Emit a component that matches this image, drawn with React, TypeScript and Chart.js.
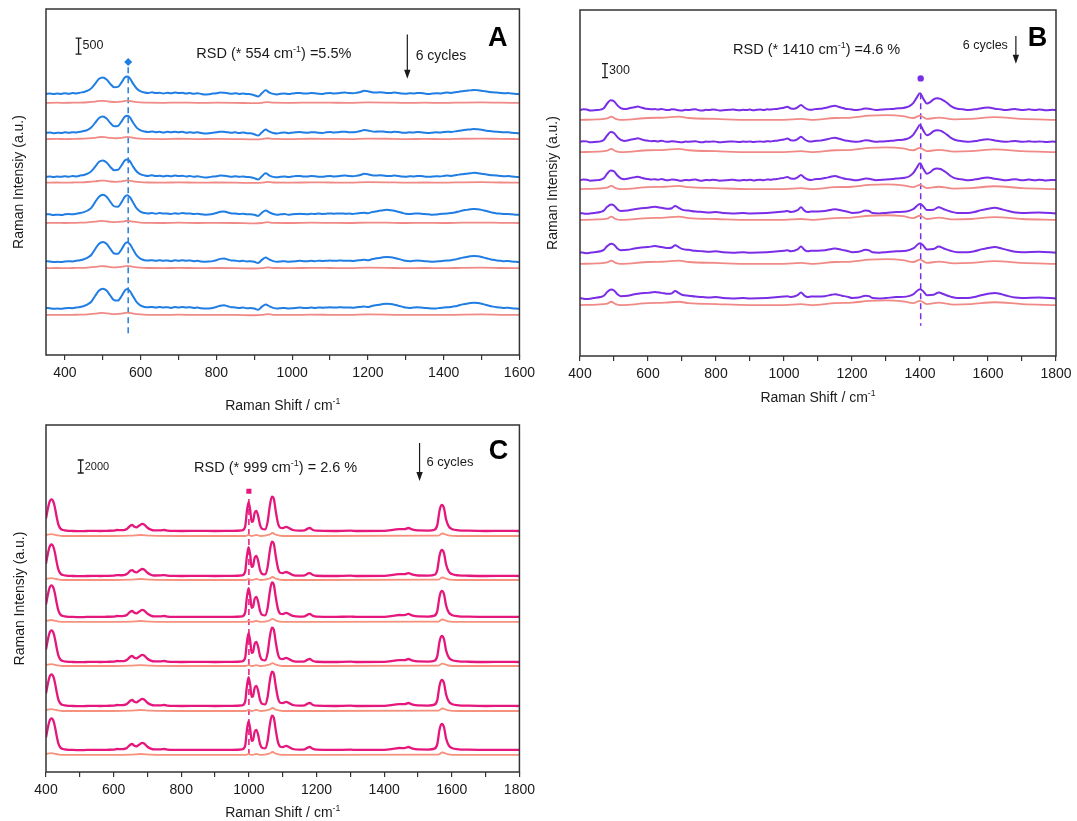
import React, { useEffect, useRef } from 'react';
import { Chart, registerables } from 'chart.js';

Chart.register(...registerables);

const FONT = "'Liberation Sans', Arial, Helvetica, sans-serif";
type Pt = [number, number];

// ---------------- Panel A (Raman shift, intensity) ----------------
const A_TICKS = [400, 500, 600, 700, 800, 900, 1000, 1100, 1200, 1300, 1400, 1500, 1600];
const A_SIGNAL_1: Pt[] = [[350,0],[360,15],[370,-5],[380,10],[390,0],[400,20],[410,5],[420,25],[430,15],[440,40],[450,60],[460,100],[470,180],[480,320],[490,470],[500,515],[510,450],[520,310],[530,210],[540,220],[550,370],[558,510],[565,540],[572,480],[580,320],[590,160],[600,80],[610,45],[620,30],[630,50],[640,25],[650,35],[660,15],[670,35],[680,20],[690,40],[700,25],[710,35],[720,10],[730,25],[740,5],[750,20],[760,0],[770,-20],[780,-10],[790,10],[800,20],[810,40],[820,35],[830,20],[840,5],[850,20],[860,0],[870,15],[880,-5],[890,-10],[900,-40],[910,-80],[920,20],[930,110],[940,40],[950,0],[960,-15],[970,5],[980,15],[990,-5],[1000,10],[1010,25],[1020,30],[1030,15],[1040,10],[1050,25],[1060,20],[1070,5],[1080,0],[1090,20],[1100,30],[1110,15],[1120,20],[1130,35],[1140,40],[1150,25],[1160,20],[1170,35],[1180,60],[1190,95],[1200,80],[1210,50],[1220,40],[1230,50],[1240,45],[1250,30],[1260,25],[1270,40],[1280,30],[1290,10],[1300,5],[1310,20],[1320,15],[1330,30],[1340,25],[1350,10],[1360,0],[1370,10],[1380,20],[1390,15],[1400,30],[1410,40],[1420,30],[1430,50],[1440,70],[1450,85],[1460,100],[1470,110],[1480,125],[1490,115],[1500,100],[1510,80],[1520,60],[1530,50],[1540,40],[1550,30],[1560,20],[1570,25],[1580,10],[1590,0],[1600,-10]];
const A_SIGNAL_2: Pt[] = [[350,0],[360,-10],[370,-30],[380,-20],[390,-30],[400,-10],[410,0],[420,-10],[430,10],[440,30],[450,60],[460,110],[470,200],[480,380],[490,540],[500,600],[510,540],[520,380],[530,240],[540,230],[550,380],[558,540],[565,590],[572,520],[580,360],[590,170],[600,70],[610,30],[620,20],[630,30],[640,10],[650,30],[660,15],[670,20],[680,0],[690,25],[700,10],[710,30],[720,15],[730,20],[740,0],[750,10],[760,-10],[770,-20],[780,-15],[790,0],[800,30],[810,70],[820,80],[830,50],[840,20],[850,15],[860,0],[870,10],[880,-10],[890,-5],[900,-20],[910,-60],[920,40],[930,110],[940,50],[950,0],[960,-20],[970,-10],[980,0],[990,-20],[1000,-10],[1010,0],[1020,10],[1030,0],[1040,-5],[1050,10],[1060,0],[1070,15],[1080,5],[1090,10],[1100,20],[1110,10],[1120,15],[1130,20],[1140,10],[1150,15],[1160,5],[1170,20],[1180,30],[1190,40],[1200,25],[1210,60],[1220,80],[1230,100],[1240,120],[1250,130],[1260,120],[1270,100],[1280,70],[1290,40],[1300,10],[1310,0],[1320,10],[1330,20],[1340,10],[1350,0],[1360,-10],[1370,-20],[1380,-15],[1390,0],[1400,10],[1410,20],[1420,30],[1430,50],[1440,80],[1450,110],[1460,130],[1470,150],[1480,160],[1490,150],[1500,130],[1510,100],[1520,70],[1530,40],[1540,20],[1550,10],[1560,0],[1570,5],[1580,-10],[1590,-20],[1600,-25]];
const A_BLANK: Pt[] = [[350,0],[380,5],[400,0],[420,5],[440,10],[460,20],[480,40],[495,65],[505,60],[520,35],[535,25],[550,40],[565,70],[580,40],[600,15],[620,5],[660,0],[700,10],[750,0],[800,5],[850,0],[900,-10],[920,0],[935,25],[950,5],[1000,0],[1050,10],[1100,5],[1150,0],[1200,15],[1250,10],[1300,0],[1350,5],[1400,0],[1450,10],[1500,15],[1550,5],[1600,0]];
const A_SIGNAL_LEVEL = [8150, 6930, 5560, 4400, 2930, 1470];
const A_BLANK_LEVEL = [7870, 6740, 5380, 4120, 2710, 1250];
const A_CYCLE_SHAPE = [0, 0, 0, 1, 1, 1];

// ---------------- Panel B ----------------
const B_TICKS = [400, 500, 600, 700, 800, 900, 1000, 1100, 1200, 1300, 1400, 1500, 1600, 1700, 1800];
const B_SIGNAL_1: Pt[] = [[400,0],[410,15],[420,10],[430,-10],[440,-5],[450,0],[460,10],[470,40],[480,140],[490,210],[500,190],[510,100],[520,40],[530,20],[540,30],[550,50],[560,60],[570,75],[580,55],[590,35],[600,25],[610,15],[620,20],[630,10],[640,25],[650,5],[660,0],[670,15],[680,10],[690,-5],[700,-10],[710,5],[720,0],[730,10],[740,15],[750,-5],[760,-10],[770,5],[780,0],[790,10],[800,5],[810,-10],[820,-5],[830,0],[840,5],[850,10],[860,0],[870,-5],[880,5],[890,0],[900,10],[910,-5],[920,5],[930,10],[940,0],[950,15],[960,10],[970,20],[980,25],[990,40],[1000,50],[1010,70],[1020,35],[1030,30],[1040,60],[1050,110],[1060,55],[1070,15],[1080,5],[1090,20],[1100,25],[1110,30],[1120,45],[1130,60],[1140,80],[1150,90],[1160,70],[1170,50],[1180,30],[1190,20],[1200,10],[1210,0],[1220,5],[1230,20],[1240,35],[1250,30],[1260,15],[1270,0],[1280,5],[1290,10],[1300,15],[1310,20],[1320,25],[1330,35],[1340,40],[1350,45],[1360,60],[1370,90],[1380,150],[1390,260],[1400,360],[1410,240],[1420,140],[1430,170],[1440,230],[1450,250],[1460,240],[1470,200],[1480,150],[1490,90],[1500,50],[1510,30],[1520,20],[1530,10],[1540,0],[1550,5],[1560,15],[1570,25],[1580,40],[1590,50],[1600,55],[1610,45],[1620,30],[1630,20],[1640,10],[1650,0],[1660,5],[1670,15],[1680,20],[1690,10],[1700,0],[1710,5],[1720,15],[1730,5],[1740,0],[1750,10],[1760,5],[1770,-5],[1780,0],[1790,5],[1800,0]];
const B_SIGNAL_2: Pt[] = [[400,0],[420,-20],[440,0],[460,20],[470,50],[480,130],[492,180],[500,160],[510,80],[520,40],[540,50],[560,80],[580,100],[600,110],[620,130],[640,110],[660,90],[670,100],[680,150],[690,110],[700,70],[720,50],[740,30],[760,20],[780,10],[800,20],[820,0],[850,-10],[880,0],[900,-10],[950,0],[1000,30],[1010,40],[1020,20],[1040,60],[1050,120],[1060,50],[1070,20],[1080,30],[1100,30],[1120,40],[1140,70],[1150,80],[1170,50],[1190,20],[1200,0],[1220,10],[1240,50],[1250,40],[1260,0],[1280,-10],[1300,0],[1330,20],[1360,30],[1380,80],[1400,190],[1410,140],[1420,60],[1440,70],[1455,120],[1470,80],[1490,30],[1510,0],[1540,0],[1560,20],[1580,60],[1600,90],[1620,110],[1640,80],[1660,40],[1680,10],[1700,0],[1750,10],[1800,-10]];
const B_BLANK: Pt[] = [[400,0],[450,10],[480,30],[492,70],[505,20],[520,0],[600,40],[650,50],[690,70],[720,40],[800,20],[900,0],[1000,0],[1050,20],[1080,0],[1150,40],[1200,50],[1250,90],[1300,100],[1350,80],[1380,40],[1400,90],[1420,20],[1455,50],[1500,10],[1550,20],[1620,60],[1700,20],[1800,0]];
const B_SIGNAL_LEVEL = [5260, 4580, 3760, 3060, 2220, 1240];
const B_BLANK_LEVEL = [5050, 4360, 3570, 2910, 1970, 1090];
const B_CYCLE_SHAPE = [0, 0, 0, 1, 1, 1];

// ---------------- Panel C ----------------
const C_TICKS = [400, 500, 600, 700, 800, 900, 1000, 1100, 1200, 1300, 1400, 1500, 1600, 1700, 1800];
const C_SIGNAL: Pt[] = [[400,1900],[405,3300],[410,4400],[416,4850],[421,4600],[426,3700],[431,2300],[436,1100],[442,420],[450,150],[460,60],[480,0],[500,-30],[520,0],[540,20],[560,0],[580,30],[600,60],[610,150],[620,120],[630,150],[640,350],[650,850],[655,920],[660,700],[668,560],[675,800],[685,1080],[690,1000],[700,500],[710,200],[720,80],[740,100],[750,150],[760,60],[780,20],[800,0],[850,20],[900,0],[950,20],[980,100],[989,700],[994,3000],[999,4450],[1004,3200],[1008,1400],[1012,1500],[1017,2800],[1022,3080],[1027,2400],[1033,900],[1040,300],[1048,250],[1055,1300],[1062,3900],[1068,5300],[1074,4900],[1079,3200],[1086,1200],[1093,500],[1100,450],[1110,620],[1120,400],[1130,150],[1150,60],[1165,100],[1175,400],[1180,460],[1188,200],[1200,40],[1250,0],[1300,60],[1320,0],[1400,20],[1430,200],[1445,300],[1460,280],[1472,460],[1482,250],[1500,80],[1530,60],[1549,200],[1557,900],[1564,3200],[1570,4000],[1577,3500],[1583,1800],[1591,700],[1600,300],[1620,100],[1650,40],[1700,0],[1750,20],[1800,0]];
const C_BLANK: Pt[] = [[400,150],[415,300],[430,150],[450,0],[600,0],[650,50],[680,150],[710,50],[800,0],[990,0],[999,150],[1008,0],[1022,150],[1035,0],[1060,200],[1070,460],[1080,200],[1100,0],[1560,50],[1572,380],[1590,80],[1620,0],[1800,0]];
const C_SIGNAL_LEVEL = [37090, 30160, 23860, 16930, 10160, 3390];
const C_BLANK_LEVEL = [36320, 29550, 23090, 16310, 9390, 2620];

type Rich = [string, boolean][];

interface Spec {
  key: string;
  left: number; top: number; width: number; height: number;
  padLeft: number; padTop: number; padRight: number; xAxisHeight: number;
  xMin: number; xMax: number; ticks: number[]; yMax: number;
  signalColor: string; blankColor: string; signalWidth: number;
  signals: Pt[][]; blanks: Pt[][];
  signalLevels: number[]; blankLevels: number[];
  marker: { x: number; y: number; style: string; r: number };
  dash: [number, number];
  yTitleX: number; xTitleY: number;
  bar: { x: number; top: number; size: number; label: string; font: number };
  rsd: { x: number; y: number; parts: Rich; font: number };
  arrow: { x: number; y1: number; y2: number };
  cycles: { x: number; y: number; font: number };
  letter: { x: number; y: number; text: string };
}

const SPECS: Spec[] = [
  {
    key: 'A', left: 0, top: 0, width: 540, height: 416,
    padLeft: 46, padTop: 9, padRight: 18, xAxisHeight: 61,
    xMin: 350, xMax: 1600, ticks: A_TICKS, yMax: 10800,
    signalColor: '#1f7de3', blankColor: '#f08a86', signalWidth: 2,
    signals: A_CYCLE_SHAPE.map((s) => (s === 0 ? A_SIGNAL_1 : A_SIGNAL_2)),
    blanks: A_BLANK_LEVEL.map(() => A_BLANK),
    signalLevels: A_SIGNAL_LEVEL, blankLevels: A_BLANK_LEVEL,
    marker: { x: 567, y: 9145, style: 'rectRot', r: 4 },
    dash: [8980, 624],
    yTitleX: 19, xTitleY: 405,
    bar: { x: 436, top: 9894, size: 500, label: '500', font: 12.5 },
    rsd: { x: 747, y: 9420, parts: [['RSD (* 554 cm', false], ['-1', true], [') =5.5%', false]], font: 14.5 },
    arrow: { x: 1304, y1: 10003, y2: 8620 },
    cycles: { x: 1326, y: 9332, font: 14 },
    letter: { x: 1543, y: 9894, text: 'A' },
  },
  {
    key: 'B', left: 540, top: 0, width: 537, height: 410,
    padLeft: 40, padTop: 10, padRight: 21, xAxisHeight: 54,
    xMin: 400, xMax: 1800, ticks: B_TICKS, yMax: 7400,
    signalColor: '#7a2de6', blankColor: '#f08a86', signalWidth: 2,
    signals: B_CYCLE_SHAPE.map((s) => (s === 0 ? B_SIGNAL_1 : B_SIGNAL_2)),
    blanks: B_BLANK_LEVEL.map(() => B_BLANK),
    signalLevels: B_SIGNAL_LEVEL, blankLevels: B_BLANK_LEVEL,
    marker: { x: 1402, y: 5937, style: 'circle', r: 3.2 },
    dash: [5620, 648],
    yTitleX: 13.5, xTitleY: 397,
    bar: { x: 473.5, top: 6253, size: 300, label: '300', font: 12.5 },
    rsd: { x: 850, y: 6570, parts: [['RSD (* 1410 cm', false], ['-1', true], [') =4.6 %', false]], font: 14.5 },
    arrow: { x: 1682, y1: 6843, y2: 6253 },
    cycles: { x: 1525.6, y: 6642, font: 12.5 },
    letter: { x: 1745.6, y: 6805, text: 'B' },
  },
  {
    key: 'C', left: 0, top: 410, width: 540, height: 411,
    padLeft: 46, padTop: 15, padRight: 18, xAxisHeight: 49,
    xMin: 400, xMax: 1800, ticks: C_TICKS, yMax: 53400,
    signalColor: '#e5177c', blankColor: '#f5917c', signalWidth: 2.3,
    signals: C_SIGNAL_LEVEL.map(() => C_SIGNAL),
    blanks: C_BLANK_LEVEL.map(() => C_BLANK),
    signalLevels: C_SIGNAL_LEVEL, blankLevels: C_BLANK_LEVEL,
    marker: { x: 1000, y: 43215, style: 'rect', r: 3.6 },
    dash: [42000, 2000],
    yTitleX: 20, xTitleY: 402,
    bar: { x: 502.6, top: 48017, size: 2000, label: '2000', font: 11 },
    rsd: { x: 838, y: 46940, parts: [['RSD (* 999 cm', false], ['-1', true], [') = 2.6 %', false]], font: 14.5 },
    arrow: { x: 1504.7, y1: 50633, y2: 44785 },
    cycles: { x: 1525, y: 47632, font: 13 },
    letter: { x: 1737.9, y: 49432, text: 'C' },
  },
];

function drawRich(ctx: CanvasRenderingContext2D, x: number, y: number, parts: Rich, size: number, align: 'left' | 'center') {
  const supSize = size * 0.62;
  let total = 0;
  const widths = parts.map(([t, sup]) => {
    ctx.font = `${sup ? supSize : size}px ${FONT}`;
    const w = ctx.measureText(t).width;
    total += w;
    return w;
  });
  let cx = align === 'center' ? x - total / 2 : x;
  ctx.textAlign = 'left';
  ctx.textBaseline = 'alphabetic';
  const base = y + size * 0.36;
  parts.forEach(([t, sup], i) => {
    ctx.font = `${sup ? supSize : size}px ${FONT}`;
    ctx.fillText(t, cx, sup ? base - size * 0.42 : base);
    cx += widths[i];
  });
}

function makeOverlay(spec: Spec) {
  return {
    id: 'overlay' + spec.key,
    afterDraw(chart: any) {
      const { ctx, chartArea: ca, scales } = chart;
      const px = (v: number) => scales.x.getPixelForValue(v);
      const py = (v: number) => scales.y.getPixelForValue(v);
      ctx.save();
      ctx.strokeStyle = '#333';
      ctx.lineWidth = 1.5;
      ctx.strokeRect(ca.left, ca.top, ca.right - ca.left, ca.bottom - ca.top);

      ctx.fillStyle = '#1a1a1a';
      ctx.strokeStyle = '#1a1a1a';
      // scale bar
      const bx = px(spec.bar.x);
      const bt = py(spec.bar.top);
      const bb = py(spec.bar.top - spec.bar.size);
      ctx.lineWidth = 1.3;
      ctx.beginPath();
      ctx.moveTo(bx, bt); ctx.lineTo(bx, bb);
      ctx.moveTo(bx - 3, bt); ctx.lineTo(bx + 3, bt);
      ctx.moveTo(bx - 3, bb); ctx.lineTo(bx + 3, bb);
      ctx.stroke();
      ctx.font = `${spec.bar.font}px ${FONT}`;
      ctx.textAlign = 'left';
      ctx.textBaseline = 'middle';
      ctx.fillText(spec.bar.label, bx + 4, (bt + bb) / 2);

      // RSD text
      drawRich(ctx, px(spec.rsd.x), py(spec.rsd.y), spec.rsd.parts, spec.rsd.font, 'left');

      // arrow
      const ax = px(spec.arrow.x);
      const a1 = py(spec.arrow.y1);
      const a2 = py(spec.arrow.y2);
      ctx.lineWidth = 1.2;
      ctx.beginPath();
      ctx.moveTo(ax, a1); ctx.lineTo(ax, a2 - 7);
      ctx.stroke();
      ctx.beginPath();
      ctx.moveTo(ax - 3.2, a2 - 9); ctx.lineTo(ax + 3.2, a2 - 9); ctx.lineTo(ax, a2);
      ctx.closePath();
      ctx.fill();

      // cycles text
      ctx.font = `${spec.cycles.font}px ${FONT}`;
      ctx.textAlign = 'left';
      ctx.textBaseline = 'middle';
      ctx.fillText('6 cycles', px(spec.cycles.x), py(spec.cycles.y));

      // panel letter
      ctx.font = `bold 27px ${FONT}`;
      ctx.textAlign = 'center';
      ctx.fillStyle = '#000';
      ctx.fillText(spec.letter.text, px(spec.letter.x), py(spec.letter.y) + 1);

      // axis titles
      ctx.fillStyle = '#1a1a1a';
      drawRich(ctx, (ca.left + ca.right) / 2, spec.xTitleY, [['Raman Shift / cm', false], ['-1', true]], 14, 'center');
      ctx.save();
      ctx.translate(spec.yTitleX, (ca.top + ca.bottom) / 2);
      ctx.rotate(-Math.PI / 2);
      ctx.font = `14px ${FONT}`;
      ctx.textAlign = 'center';
      ctx.textBaseline = 'middle';
      ctx.fillText('Raman Intensiy (a.u.)', 0, 0);
      ctx.restore();
      ctx.restore();
    },
  };
}

function Panel({ spec }: { spec: Spec }) {
  const ref = useRef<HTMLCanvasElement | null>(null);
  useEffect(() => {
    if (!ref.current) return;
    const datasets: any[] = [];
    spec.blanks.forEach((shape, i) => {
      datasets.push({
        data: shape.map(([x, y]) => ({ x, y: y + spec.blankLevels[i] })),
        borderColor: spec.blankColor, borderWidth: 1.8, pointRadius: 0,
        cubicInterpolationMode: 'monotone', fill: false,
      });
    });
    spec.signals.forEach((shape, i) => {
      datasets.push({
        data: shape.map(([x, y]) => ({ x, y: y + spec.signalLevels[i] })),
        borderColor: spec.signalColor, borderWidth: spec.signalWidth, pointRadius: 0,
        cubicInterpolationMode: 'monotone', fill: false,
      });
    });
    datasets.push({
      data: [{ x: spec.marker.x, y: spec.dash[0] }, { x: spec.marker.x, y: spec.dash[1] }],
      borderColor: spec.signalColor, borderWidth: 1.5, borderDash: [6, 4], pointRadius: 0, fill: false,
    });
    datasets.push({
      data: [{ x: spec.marker.x, y: spec.marker.y }],
      showLine: false, pointStyle: spec.marker.style, pointRadius: spec.marker.r,
      backgroundColor: spec.signalColor, borderColor: spec.signalColor, borderWidth: 0,
    });
    const chart = new Chart(ref.current, {
      type: 'line',
      data: { datasets },
      options: {
        animation: false,
        responsive: false,
        devicePixelRatio: 1,
        events: [],
        layout: { padding: { left: spec.padLeft, top: spec.padTop, right: spec.padRight, bottom: 0 } },
        plugins: { legend: { display: false }, tooltip: { enabled: false }, title: { display: false } },
        scales: {
          x: {
            type: 'linear', min: spec.xMin, max: spec.xMax,
            afterBuildTicks: (axis: any) => { axis.ticks = spec.ticks.map((v) => ({ value: v })); },
            afterFit: (axis: any) => { axis.height = spec.xAxisHeight; },
            grid: { display: true, drawOnChartArea: false, drawTicks: true, tickLength: 5, color: '#333', lineWidth: 1.2 },
            border: { display: false },
            ticks: {
              autoSkip: false, maxRotation: 0, minRotation: 0, padding: 5, color: '#1a1a1a',
              font: { family: FONT, size: 14 },
              callback: (v: any) => (Number(v) % 200 === 0 ? String(v) : ''),
            },
          },
          y: { type: 'linear', min: 0, max: spec.yMax, display: false },
        },
      },
      plugins: [makeOverlay(spec)],
    } as any);
    return () => chart.destroy();
  }, [spec]);
  return (
    <canvas
      ref={ref}
      width={spec.width}
      height={spec.height}
      style={{ position: 'absolute', left: spec.left, top: spec.top, width: spec.width, height: spec.height }}
    />
  );
}

export default function App() {
  return (
    <div style={{ position: 'absolute', left: 0, top: 0, width: 1077, height: 821, background: '#fff', overflow: 'hidden' }}>
      {SPECS.map((s) => (
        <Panel key={s.key} spec={s} />
      ))}
    </div>
  );
}
